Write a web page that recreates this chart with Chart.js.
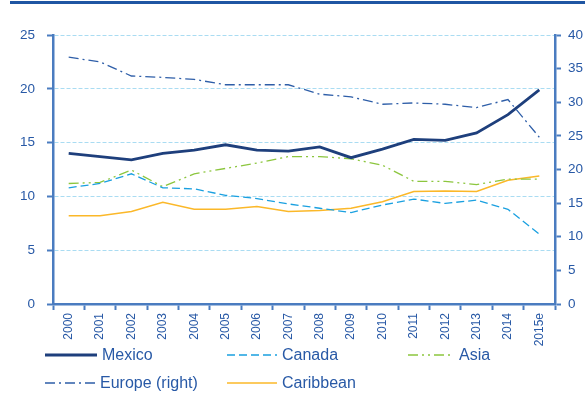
<!DOCTYPE html>
<html>
<head>
<meta charset="utf-8">
<script src="https://cdn.jsdelivr.net/npm/chart.js@4"></script>
<style>
  html, body { margin: 0; padding: 0; background: #fff; }
  #wrap { position: relative; width: 585px; height: 406px; }
  #topline { position: absolute; left: 10px; right: 0; top: 1px; height: 3px; background: #1f56a3; }
</style>
</head>
<body>
<div id="wrap">
  <div id="topline"></div>
  <canvas id="chart" width="585" height="406"></canvas>
</div>
<script>
// Categories and series (left axis %, Europe on right axis)
const years = ['2000', '2001', '2002', '2003', '2004', '2005', '2006', '2007',
               '2008', '2009', '2010', '2011', '2012', '2013', '2014', '2015e'];
const mexico    = [14.0, 13.7, 13.4, 14.0, 14.3, 14.8, 14.3, 14.2, 14.6, 13.6, 14.4, 15.3, 15.2, 15.9, 17.6, 19.9];
const canada    = [10.8, 11.2, 12.1, 10.8, 10.7, 10.1, 9.8, 9.3, 8.9, 8.5, 9.2, 9.75, 9.35, 9.65, 8.8, 6.5];
const asia      = [11.2, 11.3, 12.45, 10.9, 12.1, 12.6, 13.1, 13.7, 13.7, 13.5, 12.9, 11.4, 11.4, 11.1, 11.6, 11.6];
const europe    = [36.7, 36.0, 33.9, 33.7, 33.4, 32.6, 32.6, 32.6, 31.2, 30.8, 29.7, 29.9, 29.7, 29.2, 30.4, 24.8];
const caribbean = [8.2, 8.2, 8.6, 9.45, 8.8, 8.8, 9.05, 8.6, 8.7, 8.9, 9.5, 10.45, 10.5, 10.45, 11.5, 11.9];

const leftTicks = [0, 5, 10, 15, 20, 25];
const rightTicks = [0, 5, 10, 15, 20, 25, 30, 35, 40];

const axisBlue = '#4a7cc0';
const labelBlue = '#2859a6';
const font = 'Liberation Sans, Arial, sans-serif';

// legend positions (x of line start, y of row) in drawing order
const legendSlots = [
  { x: 45, y: 355, len: 52 },   // Mexico
  { x: 227, y: 355, len: 50 },  // Canada
  { x: 408, y: 355, len: 46 },  // Asia
  { x: 45, y: 383, len: 50 },   // Europe
  { x: 227, y: 383, len: 50 }   // Caribbean
];

const legendPlugin = {
  id: 'customLegend',
  afterDraw(chart) {
    const ctx = chart.ctx;
    chart.data.datasets.forEach((ds, i) => {
      const s = legendSlots[i];
      ctx.save();
      ctx.strokeStyle = ds.borderColor;
      ctx.lineWidth = ds.borderWidth;
      ctx.setLineDash(ds.borderDash || []);
      ctx.beginPath();
      ctx.moveTo(s.x, s.y);
      ctx.lineTo(s.x + s.len, s.y);
      ctx.stroke();
      ctx.setLineDash([]);
      ctx.fillStyle = labelBlue;
      ctx.font = '16px ' + font;
      ctx.textBaseline = 'middle';
      ctx.fillText(ds.label, s.x + s.len + 5, s.y + 1);
      ctx.restore();
    });
  }
};

new Chart(document.getElementById('chart'), {
  type: 'line',
  data: {
    labels: years,
    datasets: [
      { label: 'Mexico', data: mexico, borderColor: '#1e3f7c', borderWidth: 2.8, yAxisID: 'y' },
      { label: 'Canada', data: canada, borderColor: '#1aa0e0', borderWidth: 1.3, borderDash: [8, 4], yAxisID: 'y' },
      { label: 'Asia', data: asia, borderColor: '#8cc63e', borderWidth: 1.3, borderDash: [10, 4, 2, 4, 2, 4], yAxisID: 'y' },
      { label: 'Europe (right)', data: europe, borderColor: '#2e5ea8', borderWidth: 1.3, borderDash: [10, 4, 2, 4], yAxisID: 'y1' },
      { label: 'Caribbean', data: caribbean, borderColor: '#fbb829', borderWidth: 1.5, yAxisID: 'y' }
    ]
  },
  options: {
    responsive: false,
    animation: false,
    elements: { point: { radius: 0 }, line: { tension: 0 } },
    layout: { padding: { top: 35, left: 0, right: 0, bottom: 0 } },
    plugins: { legend: { display: false }, tooltip: { enabled: false } },
    scales: {
      x: {
        offset: true,
        grid: { offset: true, drawOnChartArea: false, tickLength: 6, tickColor: axisBlue, tickWidth: 2 },
        border: { color: axisBlue, width: 2.5 },
        ticks: { color: labelBlue, font: { family: font, size: 12 }, minRotation: 90, maxRotation: 90, padding: 3, autoSkip: false },
        afterFit(scale) { scale.height = 102; }
      },
      y: {
        position: 'left',
        min: 0, max: 25,
        afterBuildTicks(scale) { scale.ticks = leftTicks.map(v => ({ value: v })); },
        grid: {
          color: ctx => ctx.tick && ctx.tick.value === 0 ? 'rgba(0,0,0,0)' : '#aadcf2',
          lineWidth: 1, tickLength: 6, tickColor: axisBlue, tickWidth: 2
        },
        border: { color: axisBlue, width: 2.5, dash: [4, 2] },
        ticks: { color: labelBlue, font: { family: font, size: 13.5 }, padding: 12 },
        afterFit(scale) { scale.width = 53; }
      },
      y1: {
        position: 'right',
        min: 0, max: 40,
        afterBuildTicks(scale) { scale.ticks = rightTicks.map(v => ({ value: v })); },
        grid: { drawOnChartArea: false, tickLength: 6, tickColor: axisBlue, tickWidth: 2 },
        border: { color: axisBlue, width: 2.5 },
        ticks: { color: labelBlue, font: { family: font, size: 13.5 }, padding: 7 },
        afterFit(scale) { scale.width = 30; }
      }
    }
  },
  plugins: [legendPlugin]
});
</script>
</body>
</html>
